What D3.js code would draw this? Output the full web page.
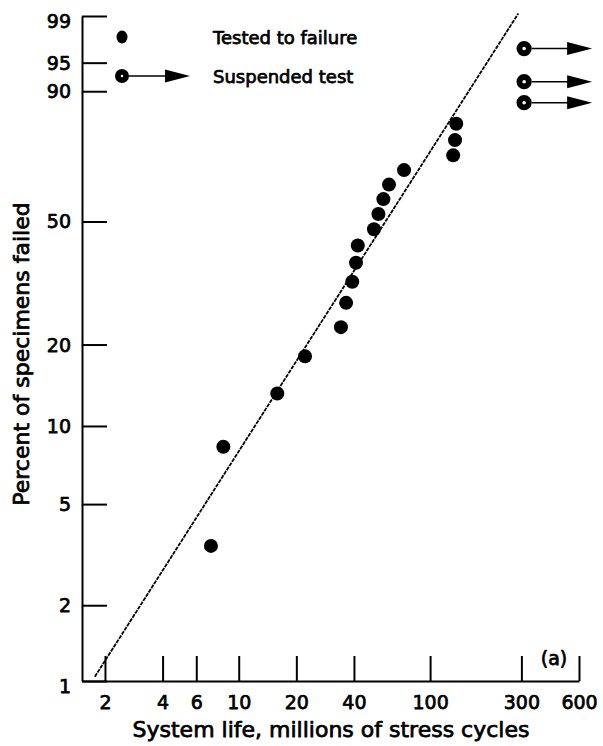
<!DOCTYPE html>
<html><head><meta charset="utf-8">
<script src="https://cdn.jsdelivr.net/npm/d3@7"></script>
<style>body{margin:0;background:#fff}svg{display:block}
text{fill:#000;stroke:#000;stroke-width:0.75px;stroke-linejoin:round}</style>
</head><body>
<svg id="c" width="603" height="746"></svg>
<script>
// ---- data ----
const failedLife = [7.16, 8.31, 15.9, 22.2, 34.2, 36.4, 39.2, 41.0, 41.9, 50.9, 53.7, 57.0, 61.0, 73.1, 132, 135, 137];
const failedPct  = [3.43, 8.33, 13.24, 18.14, 23.04, 27.94, 32.84, 37.75, 42.65, 47.55, 52.45, 57.35, 62.25, 67.16, 72.06, 76.96, 81.86];
const suspendedLife = [310, 310, 310];
const suspendedPct  = [96.7, 91.9, 87.4];
const fitLife = [1.77, 289];
const fitPct  = [1.04, 99.1];
const xTicks = [2, 4, 6, 10, 20, 40, 100, 300, 600];
const yTicks = [1, 2, 5, 10, 20, 50, 90, 95, 99];
const legendLabels = ["Tested to failure", "Suspended test"];
const xTitle = "System life, millions of stress cycles";
const yTitle = "Percent of specimens failed";
const panelLabel = "(a)";

// ---- scales ----
const svg = d3.select("#c");
const FONT = "'DejaVu Sans', sans-serif";
const x = d3.scaleLog().domain([1.517, 600]).range([82, 579]);
const weib = p => Math.log(-Math.log(1 - p / 100));
const yLin = d3.scaleLinear().domain([weib(1), weib(99)]).range([681, 16]);
const y = p => yLin(weib(p));

// ---- axes ----
const xAxis = d3.axisBottom(x).tickValues(xTicks).tickFormat(d3.format("d"))
  .tickSizeInner(-25).tickSizeOuter(0).tickPadding(15);
const gx = svg.append("g").attr("transform", "translate(0,681)").call(xAxis);

const yAxis = d3.axisLeft(yLin).tickValues(yTicks.map(weib))
  .tickFormat((d, i) => yTicks[i]).tickSizeInner(-25).tickSizeOuter(0).tickPadding(11);
const gy = svg.append("g").attr("transform", "translate(82,0)").call(yAxis);

[gx, gy].forEach(g => {
  g.select(".domain").attr("stroke", "#000").attr("stroke-width", 2);
  g.selectAll(".tick line").attr("stroke", "#000").attr("stroke-width", 2);
  g.selectAll(".tick text").style("font-family", FONT).style("font-size", "19px");
});
gy.selectAll(".tick text").attr("dy", (d, i) => (yTicks[i] === 99 ? "0.62em" : yTicks[i] === 1 ? "0.6em" : "0.34em"));

// ---- fitted line ----
svg.append("line")
  .attr("x1", x(fitLife[0])).attr("y1", y(fitPct[0]))
  .attr("x2", x(fitLife[1])).attr("y2", y(fitPct[1]))
  .attr("stroke", "#000").attr("stroke-width", 1.8).attr("stroke-dasharray", "4,1");

// ---- failed points ----
svg.append("g").selectAll("circle").data(failedLife).join("circle")
  .attr("cx", d => x(d)).attr("cy", (d, i) => y(failedPct[i])).attr("r", 7).attr("fill", "#000");

// ---- suspended ----
function suspended(g, cx, cy, r) {
  g.append("line").attr("x1", cx + r).attr("x2", cx + 44).attr("y1", cy).attr("y2", cy)
    .attr("stroke", "#000").attr("stroke-width", 1.6);
  g.append("path").attr("d", `M${cx + 43},${cy - 6.5}L${cx + 68},${cy}L${cx + 43},${cy + 6.5}Z`).attr("fill", "#000");
  g.append("circle").attr("cx", cx).attr("cy", cy).attr("r", r - 2.9)
    .attr("fill", "#fff").attr("stroke", "#000").attr("stroke-width", 5.8);
}
const gs = svg.append("g");
suspendedLife.forEach((d, i) => suspended(gs, x(d), y(suspendedPct[i]), 7.6));

// ---- legend ----
const lg = svg.append("g");
lg.append("ellipse").attr("cx", 122).attr("cy", 37).attr("rx", 5.5).attr("ry", 6.5).attr("fill", "#000");
suspended(lg, 122, 76, 7);
lg.selectAll("text").data(legendLabels).join("text")
  .attr("x", 213).attr("y", (d, i) => 44 + i * 39)
  .style("font-family", FONT).style("font-size", "18px").text(d => d);

// ---- titles ----
svg.append("text").attr("x", 331).attr("y", 737).attr("text-anchor", "middle")
  .style("font-family", FONT).style("font-size", "22px").text(xTitle);
svg.append("text").attr("transform", "translate(29,354) rotate(-90)").attr("text-anchor", "middle")
  .style("font-family", FONT).style("font-size", "22px").text(yTitle);
svg.append("text").attr("x", 554).attr("y", 665).attr("text-anchor", "middle")
  .style("font-family", FONT).style("font-size", "19px").text(panelLabel);
</script>
</body></html>
